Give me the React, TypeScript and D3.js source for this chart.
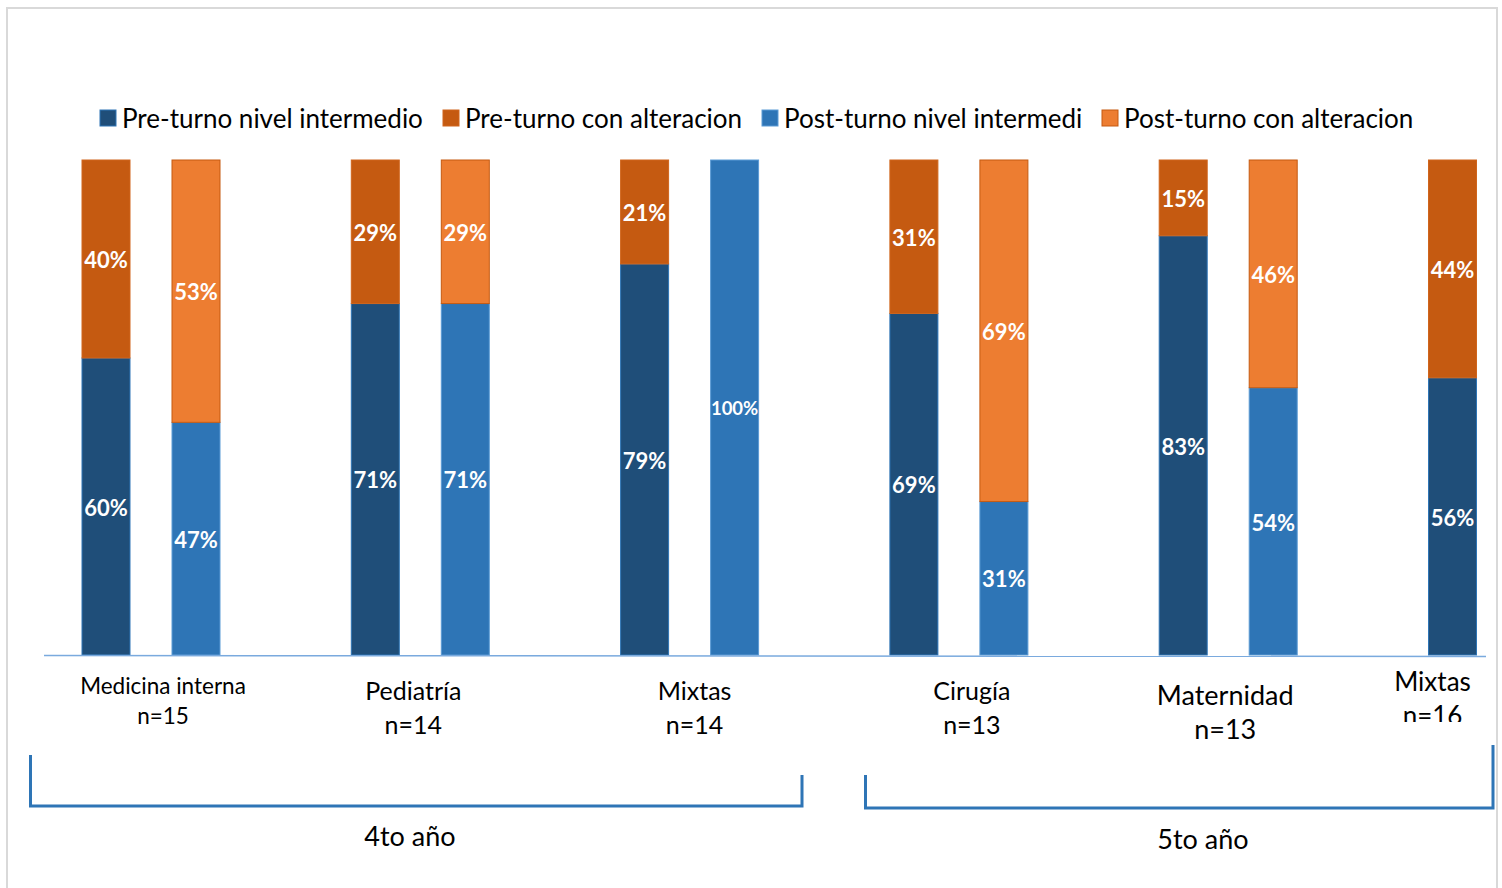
import React from "react";
import * as d3 from "d3";

const categories = ["Medicina interna", "Pediatría", "Mixtas", "Cirugía", "Maternidad", "Mixtas"];
const sampleSizes = ["n=15", "n=14", "n=14", "n=13", "n=13", "n=16"];
const preIntermedio = [60, 71, 79, 69, 83, 56];
const preAlteracion = [40, 29, 21, 31, 15, 44];
const postIntermedio: (number | null)[] = [47, 71, 100, 31, 54, null];
const postAlteracion: (number | null)[] = [53, 29, 0, 69, 46, null];
const seriesNames = [
  "Pre-turno nivel intermedio",
  "Pre-turno con alteracion",
  "Post-turno nivel intermedi",
  "Post-turno con alteracion",
];
const yearLabels = ["4to año", "5to año"];

const COLORS = ["#1f4e79", "#c55a11", "#2e75b6", "#ed7d31"];
const STROKES = ["#2e75b6", "#d0651c", "#5b9bd5", "#c55a11"];
const FONT = "Lato, 'Open Sans', sans-serif";

// layout tweaks for category labels (dx from group center, font size, y1, y2)
const labelLayout = [
  { dx: 12, fs: 22.5, y1: 686, y2: 716 },
  { dx: -7, fs: 25, y1: 691, y2: 725 },
  { dx: 5, fs: 25, y1: 691, y2: 725 },
  { dx: 13, fs: 25, y1: 691, y2: 725 },
  { dx: -3, fs: 27, y1: 696, y2: 730 },
  { dx: -65, fs: 26, y1: 682, y2: 716 },
];

export default function App() {
  const W = 1502;
  const H = 888;
  const idx = categories.map((_, i) => String(i));
  const x = d3.scaleBand<string>().domain(idx).range([44, 44 + 6 * 269.3]).padding(0);
  const inner = d3.scaleBand<string>().domain(["pre", "post"]).range([38, 176]).paddingInner(0.4667).paddingOuter(0);
  const y = d3.scaleLinear().domain([0, 1]).range([655, 160]);

  const stack = d3.stack<any>().keys(["a", "b"]).offset(d3.stackOffsetExpand);
  const preRows = categories.map((_, i) => ({ a: preIntermedio[i], b: preAlteracion[i] }));
  const preStack = stack(preRows);
  const postIdx = categories.map((_, i) => i).filter((i) => postIntermedio[i] != null);
  const postRows = postIdx.map((i) => ({ a: postIntermedio[i] as number, b: postAlteracion[i] as number }));
  const postStack = stack(postRows);

  type Seg = { x: number; y0: number; y1: number; color: number; value: number };
  const segs: Seg[] = [];
  preStack.forEach((layer, li) => {
    layer.forEach((d, i) => {
      segs.push({
        x: (x(String(i)) as number) + (inner("pre") as number),
        y0: d[0],
        y1: d[1],
        color: li,
        value: li === 0 ? preIntermedio[i] : preAlteracion[i],
      });
    });
  });
  postStack.forEach((layer, li) => {
    layer.forEach((d, j) => {
      const i = postIdx[j];
      segs.push({
        x: (x(String(i)) as number) + (inner("post") as number),
        y0: d[0],
        y1: d[1],
        color: 2 + li,
        value: (li === 0 ? postIntermedio[i] : postAlteracion[i]) as number,
      });
    });
  });
  const bw = inner.bandwidth();

  const legendX = [100, 443, 762, 1102];

  return (
    <svg width={W} height={H} style={{ position: "fixed", left: 0, top: 0, background: "#fff" }} fontFamily={FONT}>
      <defs>
        <clipPath id="clipN">
          <rect x={1300} y={640} width={200} height={82} />
        </clipPath>
      </defs>
      {/* frame */}
      <path d="M7,888 V8 H1497 V888" fill="none" stroke="#d9d9d9" strokeWidth={2} />

      {/* legend */}
      {seriesNames.map((s, i) => (
        <g key={s}>
          <rect x={legendX[i]} y={110} width={16} height={16} fill={COLORS[i]} stroke={STROKES[i]} strokeWidth={1} />
          <text x={legendX[i] + 22} y={119} dy="0.35em" fontSize={26} fill="#000">
            {s}
          </text>
        </g>
      ))}

      {/* bars */}
      {segs.map((s, k) =>
        s.y1 - s.y0 > 0 ? (
          <rect
            key={k}
            x={s.x}
            y={y(s.y1)}
            width={bw}
            height={y(s.y0) - y(s.y1)}
            fill={COLORS[s.color]}
            stroke={STROKES[s.color]}
            strokeWidth={1}
          />
        ) : null
      )}
      {segs.map((s, k) =>
        s.value > 0 ? (
          <text
            key={"t" + k}
            x={s.x + bw / 2}
            y={(y(s.y0) + y(s.y1)) / 2 + 1.5}
            dy="0.35em"
            textAnchor="middle"
            fill="#fff"
            fontWeight="bold"
            fontSize={String(s.value).length > 2 ? 18.5 : 22}
          >
            {s.value + "%"}
          </text>
        ) : null
      )}

      {/* axis line */}
      <line x1={44} x2={1486} y1={655.5} y2={656.5} stroke="#7aaade" strokeWidth={1.5} />

      {/* category labels */}
      {categories.map((c, i) => {
        const cx = (x(String(i)) as number) + 107 + labelLayout[i].dx;
        const L = labelLayout[i];
        return (
          <g key={"c" + i} clipPath={i === 5 ? "url(#clipN)" : undefined}>
            <text x={cx} y={L.y1} dy="0.35em" textAnchor="middle" fontSize={L.fs} fill="#000">
              {c}
            </text>
            <text x={cx} y={L.y2} dy="0.35em" textAnchor="middle" fontSize={L.fs} fill="#000">
              {sampleSizes[i]}
            </text>
          </g>
        );
      })}

      {/* year brackets */}
      <path d="M30.5,755 V806 H802 V775" fill="none" stroke="#2e75b6" strokeWidth={3} />
      <path d="M865.5,775 V808 H1493 V745" fill="none" stroke="#2e75b6" strokeWidth={3} />
      {yearLabels.map((t, g) => {
        const cx = g === 0 ? 410 : 1203;
        const cy = g === 0 ? 837 : 840;
        return (
          <text key={t} x={cx} y={cy} dy="0.35em" textAnchor="middle" fontSize={27} fill="#000">
            {t}
          </text>
        );
      })}
    </svg>
  );
}
